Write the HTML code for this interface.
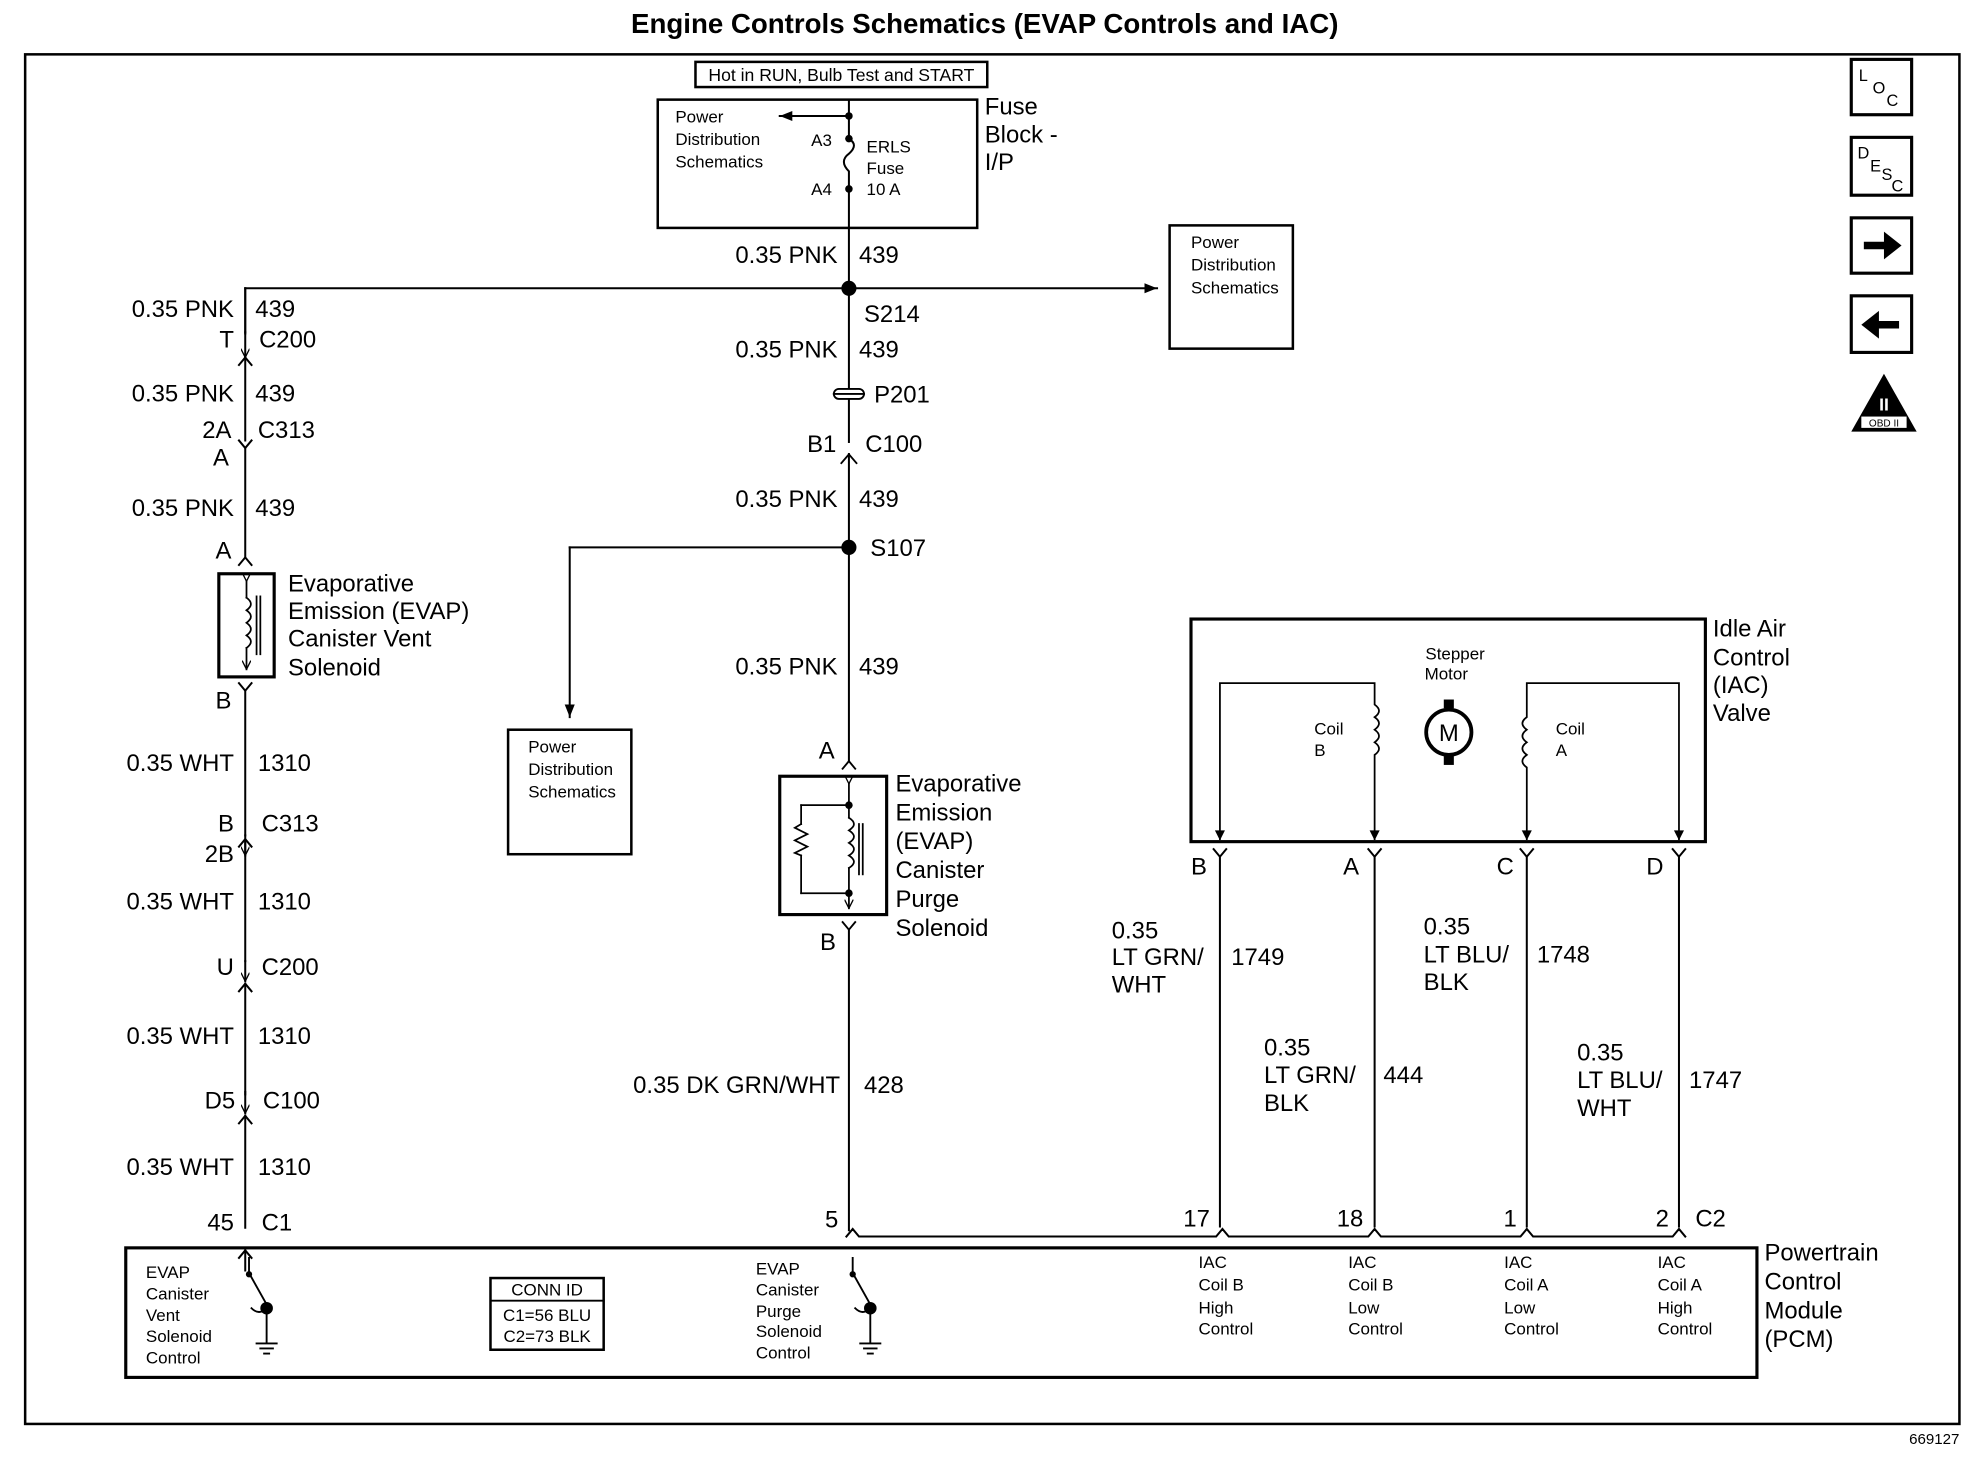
<!DOCTYPE html>
<html><head><meta charset="utf-8"><style>
html,body{margin:0;padding:0;background:#fff;}
svg{display:block;}
text{font-family:"Liberation Sans",Arial,sans-serif;fill:#000;}
.w{font-size:19px;}
.s{font-size:13.5px;}
.r{text-anchor:end;}
</style></head><body>
<svg width="1972" height="1472" viewBox="0 0 1568 1170" xmlns="http://www.w3.org/2000/svg" stroke-linecap="square">
<defs>
<marker id="ah" viewBox="0 0 10 10" refX="10" refY="5" markerWidth="10" markerHeight="10" orient="auto" markerUnits="userSpaceOnUse"><path d="M0,1 L10,5 L0,9z" fill="#000"/></marker>
<marker id="sa" viewBox="0 0 10 10" refX="10" refY="5" markerWidth="7" markerHeight="7" orient="auto" markerUnits="userSpaceOnUse"><path d="M0,0 L10,5 L0,10" fill="none" stroke="#000" stroke-width="1.5"/></marker>
</defs>
<text x="783" y="26" text-anchor="middle" font-weight="bold" font-size="22">Engine Controls Schematics (EVAP Controls and IAC)</text>
<rect x="20" y="43" width="1538" height="1089" fill="none" stroke="#000" stroke-width="2"/>
<text x="1558" y="1148" class="r" font-size="12">669127</text>

<!-- right icons -->
<g fill="none" stroke="#000" stroke-width="2.5">
<rect x="1472" y="47" width="48" height="44"/><rect x="1472" y="109" width="48" height="46"/>
<rect x="1472" y="173" width="48" height="44"/><rect x="1472" y="235" width="48" height="45"/>
</g>
<text x="1478" y="64" font-size="13">L</text><text x="1489" y="74" font-size="13">O</text><text x="1500" y="84" font-size="13">C</text>
<text x="1477" y="126" font-size="13">D</text><text x="1487" y="136" font-size="13">E</text><text x="1496" y="143" font-size="13">S</text><text x="1504" y="152" font-size="13">C</text>
<path d="M1482,192 h16 v-8 l14,11 l-14,11 v-8 h-16z" fill="#000"/>
<path d="M1510,255 h-16 v-8 l-14,11 l14,11 v-8 h16z" fill="#000"/>
<path d="M1498,297 L1524,343 L1472,343z" fill="#000"/>
<text x="1498" y="326" text-anchor="middle" font-size="14" font-weight="bold" style="fill:#fff">II</text>
<rect x="1480" y="331" width="36" height="9" fill="#fff"/><text x="1498" y="339" text-anchor="middle" font-size="8">OBD II</text>

<!-- fuse block -->
<rect x="553" y="49" width="232" height="20" fill="none" stroke="#000" stroke-width="2"/>
<text x="669" y="64" text-anchor="middle" font-size="14">Hot in RUN, Bulb Test and START</text>
<rect x="523" y="79" width="254" height="102" fill="none" stroke="#000" stroke-width="2"/>
<g stroke="#000" stroke-width="1.6" fill="none">
<line x1="675" y1="79" x2="675" y2="110"/>
<line x1="675" y1="92" x2="620" y2="92" marker-end="url(#ah)"/>
<path d="M675,110 q8,5 0,12 q-8,6 0,14 q0,6 0,14"/>
<line x1="675" y1="150" x2="675" y2="435"/>
</g>
<circle cx="675" cy="92" r="3"/><circle cx="675" cy="110" r="3"/><circle cx="675" cy="150" r="3"/>
<text class="s" x="537" y="97">Power</text><text class="s" x="537" y="115">Distribution</text><text class="s" x="537" y="133">Schematics</text>
<text class="s" x="645" y="116">A3</text><text class="s" x="645" y="155">A4</text>
<text class="s" x="689" y="121">ERLS</text><text class="s" x="689" y="138">Fuse</text><text class="s" x="689" y="155">10 A</text>
<text class="w" x="783" y="91">Fuse</text><text class="w" x="783" y="113">Block -</text><text class="w" x="783" y="135">I/P</text>

<!-- center wire labels -->
<text class="w r" x="666" y="209">0.35 PNK</text><text class="w" x="683" y="209">439</text>
<circle cx="675" cy="229" r="6"/>
<g stroke="#000" stroke-width="1.6" fill="none">
<line x1="195" y1="229" x2="920" y2="229" marker-end="url(#ah)"/>
<line x1="195" y1="229" x2="195" y2="265"/>
</g>
<rect x="930" y="179" width="98" height="98" fill="none" stroke="#000" stroke-width="2"/>
<text class="s" x="947" y="197">Power</text><text class="s" x="947" y="215">Distribution</text><text class="s" x="947" y="233">Schematics</text>
<text class="w" x="687" y="256">S214</text>
<text class="w r" x="666" y="284">0.35 PNK</text><text class="w" x="683" y="284">439</text>
<rect x="663" y="309" width="24" height="8" rx="4" fill="#fff" stroke="#000" stroke-width="1.5"/><line x1="663" y1="313" x2="687" y2="313" stroke="#000" stroke-width="1.5"/>
<text class="w" x="695" y="320">P201</text>
<text class="w r" x="665" y="359">B1</text><text class="w" x="688" y="359">C100</text>
<rect x="668" y="352" width="14" height="8" fill="#fff"/>
<path d="M669,368 l6,-7 l6,7" fill="none" stroke="#000" stroke-width="1.5"/>
<text class="w r" x="666" y="403">0.35 PNK</text><text class="w" x="683" y="403">439</text>
<circle cx="675" cy="435" r="6"/><text class="w" x="692" y="442">S107</text>
<g stroke="#000" stroke-width="1.6" fill="none">
<line x1="675" y1="435" x2="453" y2="435"/><line x1="453" y1="435" x2="453" y2="570" marker-end="url(#ah)"/>
<line x1="675" y1="435" x2="675" y2="605"/>
</g>
<rect x="404" y="580" width="98" height="99" fill="none" stroke="#000" stroke-width="2"/>
<text class="s" x="420" y="598">Power</text><text class="s" x="420" y="616">Distribution</text><text class="s" x="420" y="634">Schematics</text>
<text class="w r" x="666" y="536">0.35 PNK</text><text class="w" x="683" y="536">439</text>
<text class="w" x="651" y="603">A</text>
<path d="M670,611 l5,-6 l5,6" fill="none" stroke="#000" stroke-width="1.5"/>
<!-- purge solenoid -->
<rect x="620" y="617" width="85" height="110" fill="none" stroke="#000" stroke-width="2.5"/>
<g stroke="#000" stroke-width="1.4" fill="none">
<line x1="675" y1="623" x2="675" y2="640" marker-start="url(#sa)"/>
<line x1="675" y1="640" x2="637" y2="640"/><line x1="637" y1="640" x2="637" y2="655"/>
<path d="M637,655 l-5,3 l10,5 l-10,5 l10,5 l-10,5 l5,2"/>
<line x1="637" y1="680" x2="637" y2="710"/><line x1="637" y1="710" x2="675" y2="710"/>
<path d="M675,650 q8,5 0,10 q8,5 0,10 q8,5 0,10 q8,5 0,10"/>
<line x1="675" y1="640" x2="675" y2="650"/><line x1="675" y1="690" x2="675" y2="722" marker-end="url(#sa)"/>
<line x1="683" y1="655" x2="683" y2="695"/><line x1="686" y1="655" x2="686" y2="695"/>
</g>
<circle cx="675" cy="640" r="3"/><circle cx="675" cy="710" r="3"/>
<text class="w" x="712" y="629">Evaporative</text><text class="w" x="712" y="652">Emission</text><text class="w" x="712" y="675">(EVAP)</text><text class="w" x="712" y="698">Canister</text><text class="w" x="712" y="721">Purge</text><text class="w" x="712" y="744">Solenoid</text>
<text class="w" x="652" y="755">B</text>
<path d="M670,733 l5,6 l5,-6" fill="none" stroke="#000" stroke-width="1.5"/>
<line x1="675" y1="739" x2="675" y2="978" stroke="#000" stroke-width="1.6"/>
<text class="w r" x="668" y="869">0.35 DK GRN/WHT</text><text class="w" x="687" y="869">428</text>
<text class="w" x="656" y="976">5</text>

<!-- left column -->
<g stroke="#000" stroke-width="1.6" fill="none">
<line x1="195" y1="229" x2="195" y2="264"/><path d="M190,290 l5,-6 l5,6"/><line x1="195" y1="284" x2="195" y2="350"/>
<path d="M190,350 l5,6 l5,-6"/><line x1="195" y1="356" x2="195" y2="443"/>
<path d="M190,449 l5,-6 l5,6"/>
<path d="M190,543 l5,6 l5,-6"/><line x1="195" y1="549" x2="195" y2="664"/>
<path d="M190,673 l5,-6 l5,6"/><line x1="195" y1="668" x2="195" y2="764"/>
<path d="M190,788 l5,-6 l5,6"/><line x1="195" y1="782" x2="195" y2="870"/>
<path d="M190,893 l5,-6 l5,6"/><line x1="195" y1="887" x2="195" y2="976"/>
<path d="M190,1000 l5,-6 l5,6"/><line x1="195" y1="994" x2="195" y2="1010"/>
<line x1="195" y1="264" x2="195" y2="284" marker-end="url(#sa)"/>
<line x1="195" y1="664" x2="195" y2="680" marker-end="url(#sa)"/>
<line x1="195" y1="764" x2="195" y2="780" marker-end="url(#sa)"/>
<line x1="195" y1="868" x2="195" y2="885" marker-end="url(#sa)"/>
</g>
<text class="w r" x="186" y="252">0.35 PNK</text><text class="w" x="203" y="252">439</text>
<text class="w r" x="186" y="276">T</text><text class="w" x="206" y="276">C200</text>
<text class="w r" x="186" y="319">0.35 PNK</text><text class="w" x="203" y="319">439</text>
<text class="w r" x="184" y="348">2A</text><text class="w" x="205" y="348">C313</text>
<text class="w r" x="182" y="370">A</text>
<text class="w r" x="186" y="410">0.35 PNK</text><text class="w" x="203" y="410">439</text>
<text class="w r" x="184" y="444">A</text>
<rect x="174" y="456" width="44" height="82" fill="none" stroke="#000" stroke-width="2.5"/>
<g stroke="#000" stroke-width="1.4" fill="none">
<line x1="196" y1="462" x2="196" y2="475" marker-start="url(#sa)"/>
<path d="M196,475 q7,5 0,10 q7,5 0,10 q7,5 0,10 q7,5 0,10"/>
<line x1="196" y1="515" x2="196" y2="532" marker-end="url(#sa)"/>
<line x1="204" y1="474" x2="204" y2="520"/><line x1="207" y1="474" x2="207" y2="520"/>
</g>
<text class="w" x="229" y="470">Evaporative</text><text class="w" x="229" y="492">Emission (EVAP)</text><text class="w" x="229" y="514">Canister Vent</text><text class="w" x="229" y="537">Solenoid</text>
<text class="w r" x="184" y="563">B</text>
<text class="w r" x="186" y="613">0.35 WHT</text><text class="w" x="205" y="613">1310</text>
<text class="w r" x="186" y="661">B</text><text class="w" x="208" y="661">C313</text>
<text class="w r" x="186" y="685">2B</text>
<text class="w r" x="186" y="723">0.35 WHT</text><text class="w" x="205" y="723">1310</text>
<text class="w r" x="186" y="775">U</text><text class="w" x="208" y="775">C200</text>
<text class="w r" x="186" y="830">0.35 WHT</text><text class="w" x="205" y="830">1310</text>
<text class="w r" x="187" y="881">D5</text><text class="w" x="209" y="881">C100</text>
<text class="w r" x="186" y="934">0.35 WHT</text><text class="w" x="205" y="934">1310</text>
<text class="w r" x="186" y="978">45</text><text class="w" x="208" y="978">C1</text>

<!-- IAC -->
<rect x="947" y="492" width="409" height="177" fill="none" stroke="#000" stroke-width="2.5"/>
<text class="w" x="1362" y="506">Idle Air</text><text class="w" x="1362" y="529">Control</text><text class="w" x="1362" y="551">(IAC)</text><text class="w" x="1362" y="573">Valve</text>
<text class="s" x="1157" y="524" text-anchor="middle">Stepper</text><text class="s" x="1150" y="540" text-anchor="middle">Motor</text>
<circle cx="1152" cy="582" r="18" fill="none" stroke="#000" stroke-width="3"/>
<rect x="1148" y="556" width="8" height="7"/><rect x="1148" y="601" width="8" height="7"/>
<text x="1152" y="589" text-anchor="middle" font-size="19">M</text>
<g stroke="#000" stroke-width="1.4" fill="none">
<path d="M970,667 V543 H1093 V560 q7,5 0,10 q7,5 0,10 q7,5 0,10 q7,5 0,10 V667"/>
<path d="M1214,667 V610 q-7,-5 0,-10 q-7,-5 0,-10 q-7,-5 0,-10 q-7,-5 0,-10 V543 H1335 V667"/>
</g>
<g fill="#000"><path d="M966,660 l4,8 l4,-8z"/><path d="M1089,660 l4,8 l4,-8z"/><path d="M1210,660 l4,8 l4,-8z"/><path d="M1331,660 l4,8 l4,-8z"/></g>
<text class="s" x="1045" y="584">Coil</text><text class="s" x="1045" y="601">B</text>
<text class="s" x="1237" y="584">Coil</text><text class="s" x="1237" y="601">A</text>
<g stroke="#000" stroke-width="1.6" fill="none">
<path d="M965,675 l5,6 l5,-6"/><line x1="970" y1="681" x2="970" y2="975"/>
<path d="M1088,675 l5,6 l5,-6"/><line x1="1093" y1="681" x2="1093" y2="975"/>
<path d="M1209,675 l5,6 l5,-6"/><line x1="1214" y1="681" x2="1214" y2="975"/>
<path d="M1330,675 l5,6 l5,-6"/><line x1="1335" y1="681" x2="1335" y2="975"/>
<path d="M673,983 l5,-6 l5,6 H967 l5,-6 l5,6 H1088 l5,-6 l5,6 H1209 l5,-6 l5,6 H1330 l5,-6 l5,6"/>
</g>
<text class="w" x="947" y="695">B</text><text class="w" x="1068" y="695">A</text><text class="w" x="1190" y="695">C</text><text class="w" x="1309" y="695">D</text>
<text class="w" x="884" y="746">0.35</text><text class="w" x="884" y="767">LT GRN/</text><text class="w" x="884" y="789">WHT</text><text class="w" x="979" y="767">1749</text>
<text class="w" x="1132" y="743">0.35</text><text class="w" x="1132" y="765">LT BLU/</text><text class="w" x="1132" y="787">BLK</text><text class="w" x="1222" y="765">1748</text>
<text class="w" x="1005" y="839">0.35</text><text class="w" x="1005" y="861">LT GRN/</text><text class="w" x="1005" y="883">BLK</text><text class="w" x="1100" y="861">444</text>
<text class="w" x="1254" y="843">0.35</text><text class="w" x="1254" y="865">LT BLU/</text><text class="w" x="1254" y="887">WHT</text><text class="w" x="1343" y="865">1747</text>
<text class="w r" x="962" y="975">17</text><text class="w r" x="1084" y="975">18</text><text class="w r" x="1206" y="975">1</text><text class="w r" x="1327" y="975">2</text><text class="w" x="1348" y="975">C2</text>

<!-- PCM -->
<rect x="100" y="992" width="1297" height="103" fill="none" stroke="#000" stroke-width="2.5"/>
<text class="w" x="1403" y="1002">Powertrain</text><text class="w" x="1403" y="1025">Control</text><text class="w" x="1403" y="1048">Module</text><text class="w" x="1403" y="1071">(PCM)</text>
<text class="s" x="116" y="1016">EVAP</text><text class="s" x="116" y="1033">Canister</text><text class="s" x="116" y="1050">Vent</text><text class="s" x="116" y="1067">Solenoid</text><text class="s" x="116" y="1084">Control</text>
<text class="s" x="601" y="1013">EVAP</text><text class="s" x="601" y="1030">Canister</text><text class="s" x="601" y="1047">Purge</text><text class="s" x="601" y="1063">Solenoid</text><text class="s" x="601" y="1080">Control</text>
<g stroke="#000" stroke-width="1.5" fill="none">
<path d="M198,1000 V1012 M198,1012 L212,1037 M212,1040 V1068 M204,1068 H220 M207,1072 H217 M210,1076 H214 M200,1040 q6,6 12,0"/>
<path d="M678,1000 V1012 M678,1012 L692,1037 M692,1040 V1068 M684,1068 H700 M687,1072 H697 M690,1076 H694 M680,1040 q6,6 12,0"/>
</g>
<circle cx="198" cy="1013" r="2.5"/><circle cx="212" cy="1040" r="5"/>
<circle cx="678" cy="1013" r="2.5"/><circle cx="692" cy="1040" r="5"/>
<rect x="390" y="1016" width="90" height="57" fill="none" stroke="#000" stroke-width="2"/>
<line x1="390" y1="1034" x2="480" y2="1034" stroke="#000" stroke-width="1.5"/>
<text class="s" x="435" y="1030" text-anchor="middle">CONN ID</text>
<text class="s" x="435" y="1050" text-anchor="middle">C1=56 BLU</text>
<text class="s" x="435" y="1067" text-anchor="middle">C2=73 BLK</text>
<g class="s">
<text class="s" x="953" y="1008">IAC</text><text class="s" x="953" y="1026">Coil B</text><text class="s" x="953" y="1044">High</text><text class="s" x="953" y="1061">Control</text>
<text class="s" x="1072" y="1008">IAC</text><text class="s" x="1072" y="1026">Coil B</text><text class="s" x="1072" y="1044">Low</text><text class="s" x="1072" y="1061">Control</text>
<text class="s" x="1196" y="1008">IAC</text><text class="s" x="1196" y="1026">Coil A</text><text class="s" x="1196" y="1044">Low</text><text class="s" x="1196" y="1061">Control</text>
<text class="s" x="1318" y="1008">IAC</text><text class="s" x="1318" y="1026">Coil A</text><text class="s" x="1318" y="1044">High</text><text class="s" x="1318" y="1061">Control</text>
</g>
</svg>
</body></html>
